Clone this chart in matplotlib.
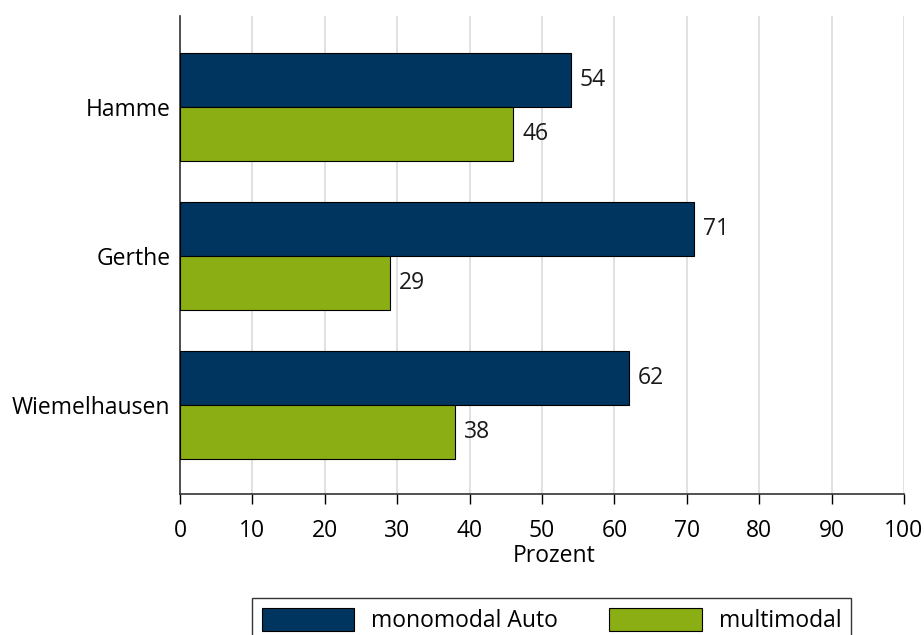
import matplotlib
matplotlib.use("Agg")
import matplotlib.pyplot as plt
import numpy as np

categories = ["Hamme", "Gerthe", "Wiemelhausen"]
mono = [54, 71, 62]
multi = [46, 29, 38]
series_names = ["monomodal Auto", "multimodal"]
xticks = [0, 10, 20, 30, 40, 50, 60, 70, 80, 90, 100]

plt.rcParams['font.family'] = ['Open Sans', 'DejaVu Sans']
FS = 16.5

fig = plt.figure(figsize=(9.24, 6.35), dpi=100)
ax = fig.add_axes([180/924, 1-494/635, (904-180)/924, (494-16)/635])

y = np.arange(len(categories))
h = 0.363
c1 = "#00355F"
c2 = "#8BAE14"
b1 = ax.barh(y - h/2, mono, height=h, color=c1, edgecolor="black", linewidth=0.8, label=series_names[0], zorder=3)
b2 = ax.barh(y + h/2, multi, height=h, color=c2, edgecolor="black", linewidth=0.8, label=series_names[1], zorder=3)

for bars, vals in ((b1, mono), (b2, multi)):
    for rect, v in zip(bars, vals):
        ax.annotate(f"{v}", (v, rect.get_y() + rect.get_height()/2),
                    xytext=(6.5, 0), textcoords="offset points",
                    va="center", ha="left", fontsize=FS, color="#1a1a1a")

ax.set_xlim(0, 100)
ax.set_ylim(2.6, -0.61)
ax.set_yticks(y)
ax.set_yticklabels(categories, fontsize=FS)
ax.set_xticks(xticks)
ax.set_xticklabels([str(t) for t in xticks], fontsize=FS)
ax.tick_params(axis="y", length=0, pad=7)
ax.tick_params(axis="x", length=7, width=1, pad=11, direction="out")
ax.grid(axis="x", color="#dcdcdc", linewidth=1.2, zorder=0)
ax.set_axisbelow(True)
for s in ("top", "right"):
    ax.spines[s].set_visible(False)
for s in ("left", "bottom"):
    ax.spines[s].set_color("#333333")
    ax.spines[s].set_linewidth(1.2)
ax.set_xlabel("Prozent", fontsize=FS)
ax.xaxis.set_label_coords(0.517, -0.104)
ax.xaxis.label.set_va("top")

leg = fig.legend(handles=[b1, b2], labels=series_names, loc="upper left",
                 bbox_to_anchor=(252/924, 1-598/635), ncol=2, fontsize=FS,
                 frameon=True, fancybox=False, edgecolor="black",
                 handlelength=4.05, handleheight=1.18, handletextpad=0.72,
                 columnspacing=2.25, borderpad=0.42, borderaxespad=0)
leg.get_frame().set_linewidth(1.0)

fig.savefig("out.png", dpi=100)
